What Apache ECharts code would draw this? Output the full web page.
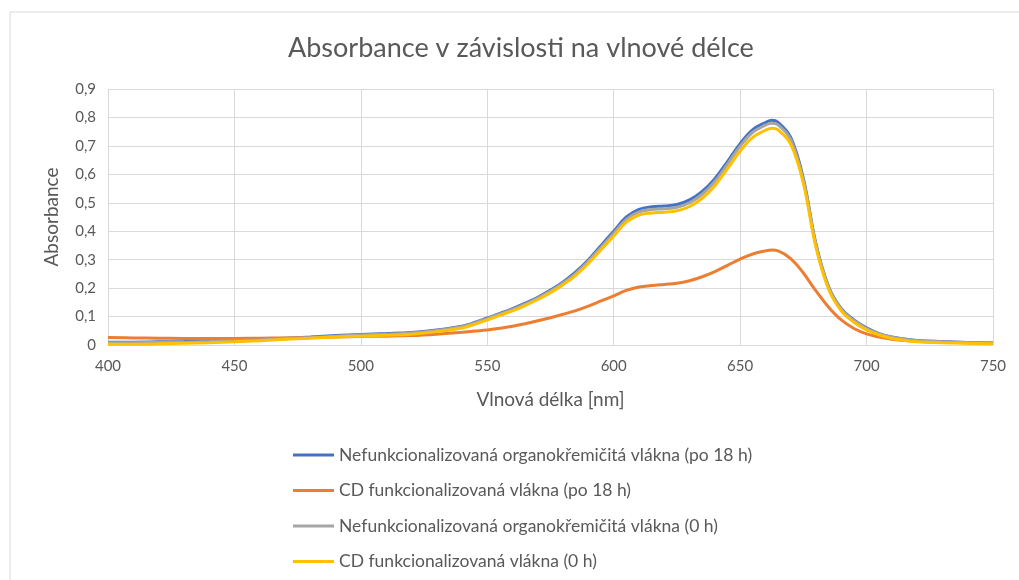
<!DOCTYPE html>
<html>
<head>
<meta charset="utf-8">
<script src="https://cdn.jsdelivr.net/npm/echarts@6/dist/echarts.min.js"></script>
<style>
  html, body { margin: 0; padding: 0; background: #fff; }
  #chart { width: 1019px; height: 580px; }
</style>
</head>
<body>
<div id="chart"></div>
<script>
// Wavelengths in nm shared by all spectra (finer step around the absorption bands)
const wavelengths = [
  400,410,420,430,440,450,460,470,480,490,500,510,520,530,
  540,545,550,555,560,565,570,575,580,585,590,595,600,605,610,615,620,625,630,635,
  640,645,650,655,660,662.5,665,670,675,680,685,690,695,700,705,710,715,720,
  730,740,750
];

// Absorbance of each sample
const nefunk18h = [
  0.010,0.010,0.011,0.012,0.014,0.017,0.020,0.024,0.028,0.033,0.037,0.040,0.044,0.053,
  0.066,0.079,0.095,0.111,0.128,0.147,0.168,0.193,0.222,0.257,0.300,0.350,0.400,0.450,0.477,0.486,0.489,0.494,0.510,0.540,
  0.585,0.645,0.708,0.757,0.782,0.790,0.783,0.730,0.585,0.355,0.205,0.128,0.088,0.060,0.040,0.028,0.021,0.016,
  0.012,0.009,0.007
];
const cd18h = [
  0.026,0.025,0.024,0.023,0.023,0.023,0.024,0.025,0.026,0.028,0.030,0.031,0.033,0.038,
  0.045,0.049,0.053,0.059,0.066,0.075,0.085,0.096,0.108,0.121,0.137,0.155,0.173,0.192,0.204,0.209,0.213,0.217,0.226,0.240,
  0.258,0.280,0.302,0.320,0.331,0.334,0.331,0.304,0.253,0.190,0.133,0.088,0.058,0.039,0.028,0.020,0.016,0.013,
  0.010,0.008,0.007
];
const nefunk0h = [
  0.008,0.008,0.009,0.010,0.012,0.015,0.018,0.022,0.026,0.031,0.035,0.038,0.042,0.051,
  0.064,0.077,0.093,0.109,0.125,0.144,0.165,0.190,0.218,0.252,0.295,0.344,0.393,0.442,0.468,0.476,0.479,0.484,0.500,0.530,
  0.575,0.636,0.699,0.748,0.773,0.780,0.774,0.722,0.578,0.350,0.202,0.126,0.086,0.058,0.039,0.027,0.020,0.015,
  0.011,0.008,0.006
];
const cd0h = [
  0.003,0.003,0.004,0.006,0.008,0.011,0.015,0.020,0.024,0.028,0.031,0.034,0.038,0.047,
  0.060,0.073,0.088,0.104,0.120,0.139,0.160,0.184,0.212,0.245,0.287,0.335,0.383,0.432,0.457,0.464,0.467,0.472,0.487,0.516,
  0.560,0.620,0.682,0.730,0.755,0.762,0.756,0.706,0.568,0.343,0.196,0.120,0.080,0.053,0.035,0.023,0.016,0.011,
  0.008,0.006,0.004
];

const seriesNames = [
  'Nefunkcionalizovaná organokřemičitá vlákna (po 18 h)',
  'CD funkcionalizovaná vlákna (po 18 h)',
  'Nefunkcionalizovaná organokřemičitá vlákna (0 h)',
  'CD funkcionalizovaná vlákna (0 h)'
];
const seriesValues = [nefunk18h, cd18h, nefunk0h, cd0h];
const seriesColors = ['#4472C4', '#ED7D31', '#A5A5A5', '#FFC000'];

const FONT = 'Lato, "Open Sans", sans-serif';
const TEXT = '#595959';
const GRID = '#D9D9D9';

const chart = echarts.init(document.getElementById('chart'), null, { renderer: 'canvas' });

chart.setOption({
  animation: false,
  backgroundColor: '#fff',
  textStyle: { fontFamily: FONT, color: TEXT },
  graphic: [{
    type: 'rect',
    shape: { x: 10, y: 12, width: 1100, height: 700 },
    style: { fill: 'none', stroke: GRID, lineWidth: 1 },
    silent: true
  }],
  title: {
    text: 'Absorbance v závislosti na vlnové délce',
    left: 283,
    top: 30,
    textStyle: { fontFamily: FONT, fontSize: 27, fontWeight: 'normal', color: TEXT }
  },
  grid: { left: 108, right: 26, top: 89, bottom: 235, containLabel: false },
  xAxis: {
    type: 'value',
    min: 400, max: 750, interval: 50,
    name: 'Vlnová délka [nm]',
    nameLocation: 'middle',
    nameGap: 45,
    nameTextStyle: { fontFamily: FONT, fontSize: 19, color: TEXT },
    axisLine: { show: true, onZero: false, lineStyle: { color: GRID, width: 1 } },
    axisTick: { show: false },
    axisLabel: { fontFamily: FONT, fontSize: 15, color: TEXT, margin: 14 },
    splitLine: { show: true, lineStyle: { color: GRID, width: 1 } }
  },
  yAxis: {
    type: 'value',
    min: 0, max: 0.9, interval: 0.1,
    name: 'Absorbance',
    nameLocation: 'middle',
    nameGap: 47,
    nameRotate: 90,
    nameTextStyle: { fontFamily: FONT, fontSize: 19, color: TEXT },
    axisLine: { show: false },
    axisTick: { show: false },
    axisLabel: {
      fontFamily: FONT, fontSize: 15, color: TEXT, margin: 12,
      formatter: v => (Math.round(v * 10) / 10).toString().replace('.', ',')
    },
    splitLine: { show: true, lineStyle: { color: GRID, width: 1 } }
  },
  legend: {
    orient: 'vertical',
    left: 288,
    top: 441,
    itemWidth: 41,
    itemHeight: 3,
    itemGap: 17.5,
    icon: 'rect',
    textStyle: { fontFamily: FONT, fontSize: 17.5, color: TEXT },
    data: seriesNames
  },
  series: seriesNames.map((name, i) => ({
    name,
    type: 'line',
    smooth: 0.4,
    showSymbol: false,
    symbol: 'none',
    color: seriesColors[i],
    lineStyle: { width: 3, color: seriesColors[i] },
    data: wavelengths.map((w, j) => [w, seriesValues[i][j]])
  }))
});
</script>
</body>
</html>
